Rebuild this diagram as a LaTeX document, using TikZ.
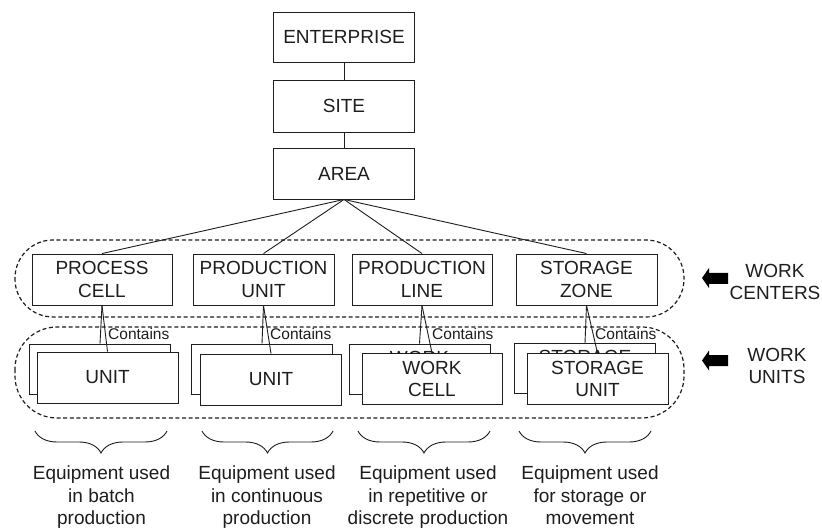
\documentclass[tikz,border=0pt]{standalone}
\usepackage{fontspec}
\setmainfont{Liberation Sans}
\usetikzlibrary{decorations.pathreplacing}
\definecolor{ink}{RGB}{30,30,30}
\begin{document}
\begin{tikzpicture}[x=1pt,y=-1pt,
  every node/.style={text=ink},
  box/.style={draw=ink, line width=0.9pt, fill=white, minimum width=141pt, minimum height=51pt,
    align=center, inner sep=0pt, font=\fontsize{19pt}{22.5pt}\selectfont},
  lbl/.style={font=\fontsize{15.5pt}{18pt}\selectfont, inner sep=0pt, anchor=west},
  captext/.style={align=center, inner sep=0pt, font=\fontsize{19pt}{22.5pt}\selectfont},
  link/.style={draw=ink, line width=0.9pt},
  region/.style={draw=ink, line width=1.2pt, dash pattern=on 4pt off 2.6pt, rounded corners=38pt},
  brc/.style={draw=ink, line width=0.9pt, decorate, decoration={brace, amplitude=22pt}},
  fat/.style={fill=black}
]
\useasboundingbox[fill=white] (0,0) rectangle (822,529);

% dashed regions
\draw[region] (15,240) rectangle (684,317);
\draw[region, rounded corners=42pt] (15,327) rectangle (684,418);

% top hierarchy
\node[box, minimum height=50pt] (ent) at (344,37) {ENTERPRISE};
\node[box, minimum height=52pt] (site) at (344,106) {SITE};
\node[box] (area) at (344,173.5) {AREA};
\draw[link] (ent) -- (site);
\draw[link] (site) -- (area);

% work centers
\node[box, minimum width=140pt] (pc) at (102,279.5) {PROCESS\\CELL};
\node[box] (pu) at (263.5,279.5) {PRODUCTION\\UNIT};
\node[box, minimum width=140pt] (pl) at (422,279.5) {PRODUCTION\\LINE};
\node[box] (sz) at (586.5,279.5) {STORAGE\\ZONE};
\foreach \n in {pc,pu,pl,sz}{\draw[link] (area.south) -- (\n.north);}

% work units: back boxes (their text is mostly hidden by the front boxes)
\node[box, minimum height=50pt] (pcb) at (100,369) {};
\node[box, minimum height=50pt] (pub) at (262,369) {};
\node[box, minimum height=50pt] (plb) at (419.5,369) {WORK\\CELL};
\node[box, minimum height=50pt] (szb) at (585,368.5) {STORAGE\\UNIT};
% front boxes
\node[box] (pcf) at (107.5,377.5) {UNIT};
\node[box] (puf) at (271,379.5) {UNIT};
\node[box, minimum width=140pt] (plf) at (432,379) {WORK\\CELL};
\node[box] (szf) at (597.5,379) {STORAGE\\UNIT};

% contains links
\draw[link] (pc.south) -- (pcb.north);
\draw[link] (pc.south) -- (pcf.north);
\draw[link] (pu.south) -- (pub.north);
\draw[link] (pu.south) -- (puf.north);
\draw[link] (pl.south) -- (plb.north);
\draw[link] (pl.south) -- (plf.north);
\draw[link] (sz.south) -- (szb.north);
\draw[link] (sz.south) -- (szf.north);
\node[lbl] (c1) at (108,334) {Contains};
\node[lbl] (c2) at (270,334) {Contains};
\node[lbl] (c3) at (432,334) {Contains};
\node[lbl] (c4) at (595,334) {Contains};

% side arrows and labels
\fill[fat] (702,278) -- (709,268) -- (709,273) -- (728,273) -- (728,284) -- (709,284) -- (709,288) -- cycle;
\fill[fat] (702,360.5) -- (709,350.5) -- (709,355) -- (728,355) -- (728,366) -- (709,366) -- (709,370.5) -- cycle;
\node[captext] (wc) at (775,284) {WORK\strut\\CENTERS\strut};
\node[captext] (wu) at (777,368) {WORK\strut\\UNITS\strut};

% braces
\coordinate (b1l) at (35,431);  \coordinate (b1r) at (167,431);
\coordinate (b2l) at (202,431); \coordinate (b2r) at (333,431);
\coordinate (b3l) at (358,431); \coordinate (b3r) at (490,431);
\coordinate (b4l) at (519,431); \coordinate (b4r) at (651,431);
\draw[brc] (b1r) -- (b1l);
\draw[brc] (b2r) -- (b2l);
\draw[brc] (b3r) -- (b3l);
\draw[brc] (b4r) -- (b4l);
\node[captext] (t1) at (101.5,497.5) {Equipment used\strut\\in batch\strut\\production\strut};
\node[captext] (t2) at (267,497.5) {Equipment used\strut\\in continuous\strut\\production\strut};
\node[captext] (t3) at (428,497.5) {Equipment used\strut\\in repetitive or\strut\\discrete production\strut};
\node[captext] (t4) at (590,497.5) {Equipment used\strut\\for storage or\strut\\movement\strut};
\end{tikzpicture}
\end{document}
